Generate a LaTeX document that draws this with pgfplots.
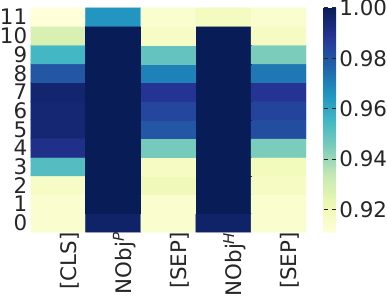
\documentclass[border=0pt]{standalone}
\usepackage{pgfplots}
\pgfplotsset{compat=1.18}
\usepackage{fontspec}
\setmainfont{DejaVu Sans}
\definecolor{txt}{RGB}{38,38,38}
\pgfplotsset{colormap={ylgnbu}{rgb255=(255,255,217) rgb255=(237,248,177) rgb255=(199,233,180) rgb255=(127,205,187) rgb255=(65,182,196) rgb255=(29,145,192) rgb255=(34,94,168) rgb255=(37,52,148) rgb255=(8,29,88)}}
\begin{document}
\begin{tikzpicture}
\begin{axis}[
  scale only axis, width=268pt, height=218pt,
  xmin=-0.5, xmax=4.5, ymin=-0.5, ymax=11.5, enlargelimits=false,
  axis line style={draw=none}, major tick length=0pt,
  colormap name=ylgnbu, point meta min=0.911, point meta max=1.0,
  xtick={0,1,2,3,4},
  xticklabels={{[CLS]},{NObj\textsuperscript{\textit{P}}},{[SEP]},{NObj\textsuperscript{\textit{H}}},{[SEP]}},
  ytick={0,1,2,3,4,5,6,7,8,9,10,11},
  yticklabels={0,1,2,3,4,5,6,7,8,9,10,11},
  tick label style={font=\fontsize{20.8}{23}\selectfont, text=txt, inner sep=0pt},
  yticklabel style={xshift=-3pt, text height=15.2pt, text depth=0pt},
  xticklabel style={rotate=90, anchor=east, yshift=-11pt},
  colorbar,
  colorbar style={
    at={(parent axis.north east)}, anchor=north west, xshift=8.5pt,
    width=12pt, height=218pt,
    axis line style={draw=none},
    ytick={0.92,0.94,0.96,0.98,1.00},
    yticklabels={0.92,0.94,0.96,0.98,1.00},
    major tick length=4pt,
    tick style={draw=txt, line width=0.8pt},
    yticklabel style={font=\fontsize{20.8}{23}\selectfont, text=txt, inner sep=0pt, xshift=3pt, text height=15.2pt, text depth=0pt},
  },
]
\addplot[matrix plot*, mesh/cols=5, point meta=explicit] table[meta=v] {
x y v
0 0 0.914
1 0 0.997
2 0 0.914
3 0 0.997
4 0 0.914
0 1 0.914
1 1 1.000
2 1 0.914
3 1 1.000
4 1 0.914
0 2 0.916
1 2 1.000
2 2 0.920
3 2 1.000
4 2 0.917
0 3 0.952
1 3 1.000
2 3 0.917
3 3 1.000
4 3 0.919
0 4 0.991
1 4 1.000
2 4 0.946
3 4 1.000
4 4 0.945
0 5 0.995
1 5 1.000
2 5 0.980
3 5 1.000
4 5 0.982
0 6 0.995
1 6 1.000
2 6 0.984
3 6 1.000
4 6 0.985
0 7 0.996
1 7 1.000
2 7 0.989
3 7 1.000
4 7 0.989
0 8 0.980
1 8 1.000
2 8 0.970
3 8 1.000
4 8 0.972
0 9 0.955
1 9 1.000
2 9 0.949
3 9 1.000
4 9 0.945
0 10 0.928
1 10 1.000
2 10 0.916
3 10 1.000
4 10 0.917
0 11 0.911
1 11 0.965
2 11 0.914
3 11 0.918
4 11 0.914
};
\end{axis}
\end{tikzpicture}
\end{document}
